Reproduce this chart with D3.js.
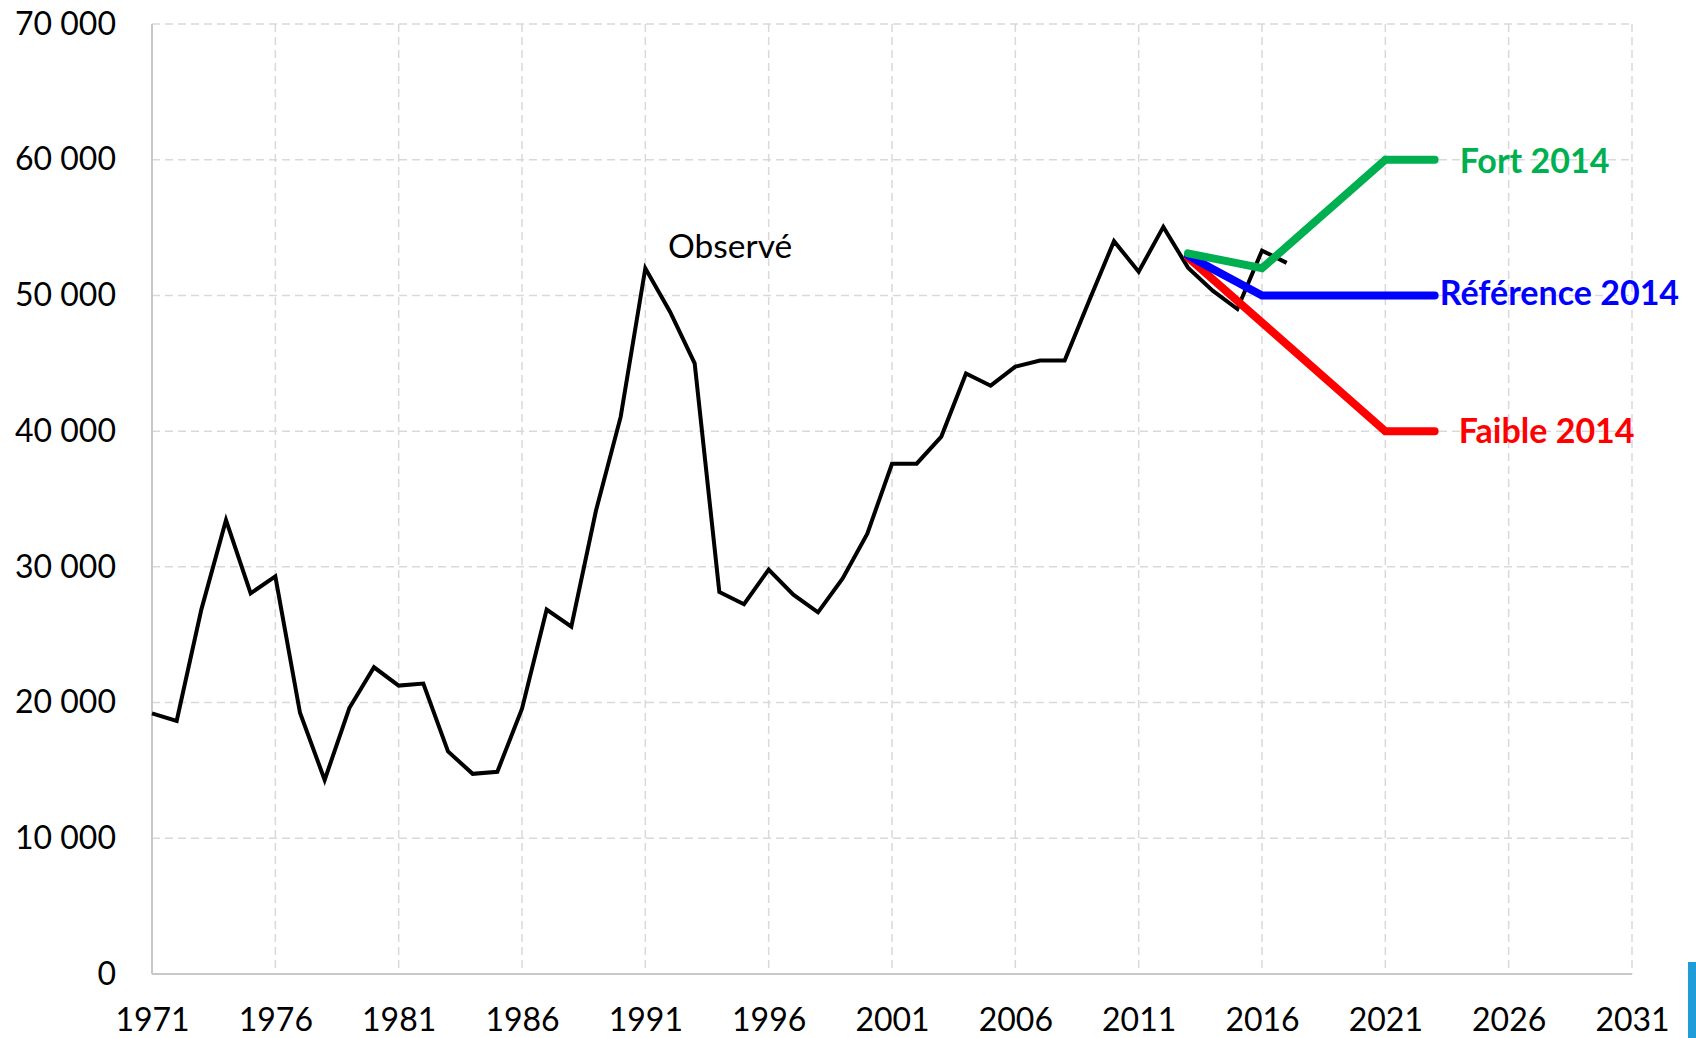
<!DOCTYPE html>
<html>
<head>
<meta charset="utf-8">
<script src="https://cdn.jsdelivr.net/npm/d3@7"></script>
<style>
  html, body { margin: 0; padding: 0; background: #fff; }
  svg { display: block; }
  text { font-family: Lato, "Open Sans", sans-serif; }
</style>
</head>
<body>
<div id="chart"></div>
<script>
// observed series, one value per year from 1971
const obsStart = 1971;
const observed = [
  19200, 18650, 26850, 33450, 28050, 29300, 19250, 14300, 19600, 22600,
  21250, 21400, 16400, 14750, 14900, 19550, 26850, 25600, 34150, 41050,
  52000, 48800, 45000, 28150, 27250, 29800, 27950, 26650, 29150, 32450,
  37600, 37600, 39600, 44250, 43350, 44750, 45200, 45200, 49650, 54000,
  51750, 55050, 52050, 50350, 49000, 53300, 52400
];

// projections 2014
const fortYears = [2013, 2016, 2021, 2023];
const fortVals = [53100, 52000, 60000, 60000];
const refYears = [2013, 2014, 2016, 2021, 2023];
const refVals = [52950, 51950, 50000, 50000, 50000];
const faibleYears = [2013, 2021, 2023];
const faibleVals = [52800, 40000, 40000];

const yTicks = [0, 10000, 20000, 30000, 40000, 50000, 60000, 70000];
const xTicks = [1971, 1976, 1981, 1986, 1991, 1996, 2001, 2006, 2011, 2016, 2021, 2026, 2031];

const W = 1696, H = 1038;
const m = {left: 152, right: 1632, top: 24, bottom: 974};

const svg = d3.select('#chart').append('svg')
  .attr('width', W)
  .attr('height', H);

const x = d3.scaleLinear().domain([1971, 2031]).range([m.left, m.right]);
const y = d3.scaleLinear().domain([0, 70000]).range([m.bottom, m.top]);

const fr = d3.formatLocale({decimal: ',', thousands: ' ', grouping: [3], currency: ['', '']});
const fmt = fr.format(',');

// grid
svg.append('g').selectAll('line')
  .data(yTicks.filter(d => d > 0))
  .enter().append('line')
    .attr('x1', m.left).attr('x2', m.right)
    .attr('y1', d => y(d)).attr('y2', d => y(d))
    .attr('stroke', '#d9d9d9')
    .attr('stroke-width', 1.5)
    .attr('stroke-dasharray', '8,5');

svg.append('g').selectAll('line')
  .data(xTicks.filter(d => d > 1971))
  .enter().append('line')
    .attr('x1', d => x(d)).attr('x2', d => x(d))
    .attr('y1', m.top).attr('y2', m.bottom)
    .attr('stroke', '#d9d9d9')
    .attr('stroke-width', 1.5)
    .attr('stroke-dasharray', '8,5');

// axes lines
svg.append('line')
  .attr('x1', m.left).attr('x2', m.left).attr('y1', m.top).attr('y2', m.bottom)
  .attr('stroke', '#c8c8c8').attr('stroke-width', 2);
svg.append('line')
  .attr('x1', m.left).attr('x2', m.right).attr('y1', m.bottom).attr('y2', m.bottom)
  .attr('stroke', '#c8c8c8').attr('stroke-width', 2);

// axis labels
const yAxis = svg.append('g')
  .attr('transform', `translate(${m.left},0)`)
  .call(d3.axisLeft(y).tickValues(yTicks).tickSize(0).tickPadding(36).tickFormat(fmt));
yAxis.select('.domain').remove();
yAxis.selectAll('text')
  .attr('font-family', 'Lato, "Open Sans", sans-serif')
  .attr('font-size', 32)
  .attr('fill', '#000');

const xAxis = svg.append('g')
  .attr('transform', `translate(0,${m.bottom})`)
  .call(d3.axisBottom(x).tickValues(xTicks).tickSize(0).tickPadding(34).tickFormat(d3.format('d')));
xAxis.select('.domain').remove();
xAxis.selectAll('text')
  .attr('font-family', 'Lato, "Open Sans", sans-serif')
  .attr('font-size', 32)
  .attr('fill', '#000');

// lines
const line = d3.line().x(d => x(d[0])).y(d => y(d[1]));

const obsPts = observed.map((v, i) => [obsStart + i, v]);
svg.append('path')
  .datum(obsPts)
  .attr('d', line)
  .attr('fill', 'none')
  .attr('stroke', '#000')
  .attr('stroke-width', 4)
  .attr('stroke-linejoin', 'miter');

const series = [
  {name: 'Faible 2014', years: faibleYears, vals: faibleVals, color: '#ff0000', dx: 24, dy: 0},
  {name: 'Référence 2014', years: refYears, vals: refVals, color: '#0000ff', dx: 5, dy: -3},
  {name: 'Fort 2014', years: fortYears, vals: fortVals, color: '#00b050', dx: 25, dy: 1}
];

series.forEach(s => {
  const pts = s.years.map((yr, i) => [yr, s.vals[i]]);
  svg.append('path')
    .datum(pts)
    .attr('d', line)
    .attr('fill', 'none')
    .attr('stroke', s.color)
    .attr('stroke-width', 8)
    .attr('stroke-linecap', 'round')
    .attr('stroke-linejoin', 'miter');

  const last = pts[pts.length - 1];
  svg.append('text')
    .attr('x', x(last[0]) + s.dx)
    .attr('y', y(last[1]) + s.dy)
    .attr('dy', '0.36em')
    .attr('font-size', 34)
    .attr('font-weight', 'bold')
    .attr('fill', s.color)
    .text(s.name);
});

// annotation for observed
svg.append('text')
  .attr('x', x(1992) - 2)
  .attr('y', y(52000) - 10)
  .attr('font-size', 33.5)
  .attr('fill', '#000')
  .text('Observé');

// little blue strip in the corner of the original screenshot
svg.append('rect')
  .attr('x', 1688).attr('y', 962)
  .attr('width', 8).attr('height', 76)
  .attr('fill', '#1f9dd8');
</script>
</body>
</html>
